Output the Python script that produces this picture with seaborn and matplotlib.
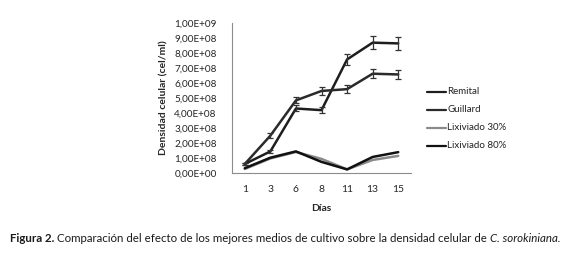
import seaborn as sns
import matplotlib.pyplot as plt
import pandas as pd
from matplotlib.ticker import FuncFormatter

dias = ['1', '3', '6', '8', '11', '13', '15']
remital = [0.58e8, 1.42e8, 4.28e8, 4.17e8, 7.55e8, 8.67e8, 8.62e8]
remital_err = [0.05e8, 0.1e8, 0.2e8, 0.2e8, 0.38e8, 0.42e8, 0.43e8]
guillard = [0.58e8, 2.47e8, 4.82e8, 5.45e8, 5.57e8, 6.6e8, 6.55e8]
guillard_err = [0.05e8, 0.18e8, 0.2e8, 0.28e8, 0.28e8, 0.3e8, 0.32e8]
lix30 = [0.25e8, 0.95e8, 1.38e8, 0.92e8, 0.22e8, 0.85e8, 1.12e8]
lix80 = [0.3e8, 1.0e8, 1.42e8, 0.72e8, 0.22e8, 1.05e8, 1.37e8]

series = {'Remital': remital, 'Guillard': guillard,
          'Lixiviado 30%': lix30, 'Lixiviado 80%': lix80}
colors = {'Remital': '#1e1e1e', 'Guillard': '#2a2a2a',
          'Lixiviado 30%': '#8a8a8a', 'Lixiviado 80%': '#111111'}

df = pd.DataFrame([(k, i, d, v) for k, vals in series.items()
                   for i, (d, v) in enumerate(zip(dias, vals))],
                  columns=['serie', 'pos', 'dia', 'valor'])

sns.set_style('white')
plt.rcParams['font.family'] = ['Lato', 'DejaVu Sans']

fig = plt.figure(figsize=(5.79, 2.61), dpi=100)
ax = fig.add_axes([232 / 579, 1 - 172.7 / 261, 179 / 579, 150 / 261])

sns.lineplot(data=df, x='pos', y='valor', hue='serie', palette=colors,
             linewidth=1.8, ax=ax, legend=False, sort=False)

ax.errorbar(range(len(dias)), remital, yerr=remital_err, fmt='none',
            ecolor='#333333', elinewidth=0.9, capsize=2.5, capthick=0.9)
ax.errorbar(range(len(dias)), guillard, yerr=guillard_err, fmt='none',
            ecolor='#333333', elinewidth=0.9, capsize=2.5, capthick=0.9)

ax.set_xlim(-0.5, len(dias) - 0.5)
ax.set_ylim(0, 1e9)
ax.set_yticks([i * 1e8 for i in range(11)])
ax.yaxis.set_major_formatter(FuncFormatter(lambda v, p: f'{v:.2E}'.replace('.', ',')))
ax.set_xticks(range(len(dias)))
ax.set_xticklabels(dias)
ax.tick_params(axis='y', length=3, width=0.6, color='#888888', labelsize=7.2, pad=8)
ax.tick_params(axis='x', length=0, labelsize=7.5, pad=9)
for s in ['top', 'right']:
    ax.spines[s].set_visible(False)
for s in ['left', 'bottom']:
    ax.spines[s].set_color('#8c8c8c')
    ax.spines[s].set_linewidth(0.8)
ax.set_xlabel('Días', fontsize=7.5, fontweight='bold', labelpad=7)
ax.set_ylabel('Densidad celular (cel/ml)', fontsize=7.5, fontweight='bold', labelpad=4)

# legend drawn manually to the right
for i, name in enumerate(series):
    y = 1 - (92 + 18 * i) / 261
    fig.add_artist(plt.Line2D([427 / 579, 446 / 579], [y, y], color=colors[name],
                              linewidth=1.6, transform=fig.transFigure))
    fig.text(447 / 579, y, name, fontsize=7, va='center', ha='left', color='#222222')

# caption with mixed styles
fig.canvas.draw()
r = fig.canvas.get_renderer()
x = 10 / 579
yc = 1 - 238 / 261
for txt, kw in [('Figura 2.', {'fontweight': 'bold'}),
                (' Comparación del efecto de los mejores medios de cultivo sobre la densidad celular de ', {}),
                ('C. sorokiniana.', {'style': 'italic'})]:
    t = fig.text(x, yc, txt, fontsize=8.3, va='center', ha='left', color='#1a1a1a', **kw)
    bb = t.get_window_extent(renderer=r)
    x += bb.width / fig.bbox.width

fig.savefig('out.png', dpi=100)
